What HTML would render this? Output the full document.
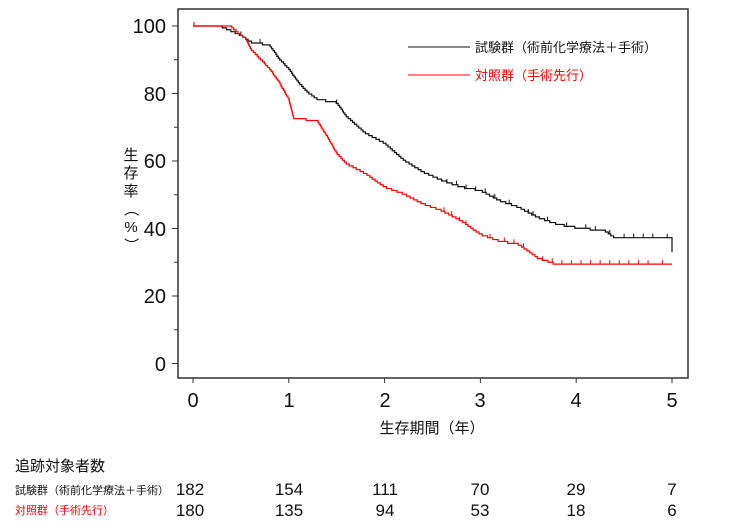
<!DOCTYPE html>
<html><head><meta charset="utf-8"><style>
body{margin:0;background:#fff;width:736px;height:525px;overflow:hidden}
svg{font-family:"Liberation Sans","Noto Sans CJK JP",sans-serif}
</style></head><body>
<svg id="s" width="736" height="525" xmlns="http://www.w3.org/2000/svg">
<rect x="178" y="9" width="510" height="369" fill="none" stroke="#333" stroke-width="1.5"/>
<g font-size="20" fill="#111" text-anchor="end">
<text x="166" y="33">100</text><text x="166" y="101">80</text><text x="166" y="168">60</text>
<text x="166" y="236">40</text><text x="166" y="303">20</text><text x="166" y="371">0</text>
</g>
<g font-size="20" fill="#111" text-anchor="middle">
<text x="193" y="407">0</text><text x="289" y="407">1</text><text x="385" y="407">2</text>
<text x="480" y="407">3</text><text x="576" y="407">4</text><text x="672" y="407">5</text>
</g>
<text x="432" y="433" font-size="15" text-anchor="middle" fill="#111">生存期間（年）</text>
<g font-size="15" fill="#111" text-anchor="middle">
<text x="131" y="160">生</text><text x="131" y="178">存</text><text x="131" y="196">率</text>
<text x="131" y="214" transform="rotate(90 131 209)">（</text><text x="131" y="232">%</text>
<text x="131" y="250" transform="rotate(90 131 245)">）</text>
</g>
<line x1="408" y1="47" x2="470" y2="47" stroke="#111"/>
<text x="475" y="52" font-size="13" fill="#111">試験群（術前化学療法＋手術）</text>
<line x1="408" y1="75" x2="470" y2="75" stroke="#f00"/>
<text x="475" y="80" font-size="13" fill="#f00">対照群（手術先行）</text>
<text x="15" y="471" font-size="15" fill="#111">追跡対象者数</text>
<text x="15" y="494" font-size="11" fill="#111">試験群（術前化学療法＋手術）</text>
<text x="15" y="514" font-size="11" fill="#f00">対照群（手術先行）</text>
<g font-size="17" fill="#111" text-anchor="middle">
<text x="190" y="495">182</text><text x="289" y="495">154</text><text x="385" y="495">111</text><text x="480" y="495">70</text><text x="576" y="495">29</text><text x="672" y="495">7</text>
<text x="190" y="516">180</text><text x="289" y="516">135</text><text x="385" y="516">94</text><text x="480" y="516">53</text><text x="576" y="516">18</text><text x="672" y="516">6</text>
</g>
</svg>
<script>
var s=document.getElementById('s'),NS='http://www.w3.org/2000/svg';
function X(t){return 193+t*95.8}function Y(v){return 363.5-v*3.375}
for(var v=0;v<=100;v+=10){var l=document.createElementNS(NS,'line');l.setAttribute('x1',v%20?174:172);l.setAttribute('x2',178);l.setAttribute('y1',Y(v));l.setAttribute('y2',Y(v));l.setAttribute('stroke','#333');s.appendChild(l);}
for(var t=0;t<=5;t++){var l=document.createElementNS(NS,'line');l.setAttribute('x1',X(t));l.setAttribute('x2',X(t));l.setAttribute('y1',378);l.setAttribute('y2',383);l.setAttribute('stroke','#333');s.appendChild(l);}
function val(pts,t){for(var i=1;i<pts.length;i++){if(t<=pts[i][0]){var a=pts[i-1],b=pts[i];if(b[0]==a[0])return b[1];return a[1]+(b[1]-a[1])*(t-a[0])/(b[0]-a[0]);}}return pts[pts.length-1][1];}
function draw(pts,col,cens,final){var step=0.56,cur=100,d='M'+X(0)+' '+Y(100),out=[[0,100]];
for(var t=0;t<=4.999;t+=0.005){var v=val(pts,t);while(v<=cur-step){cur-=step;d+=' H'+X(t)+' V'+Y(cur);out.push([t,cur]);}}
d+=' H'+X(5);if(final){d+=' V'+Y(final);}
var p=document.createElementNS(NS,'path');p.setAttribute('d',d);p.setAttribute('fill','none');p.setAttribute('stroke',col);p.setAttribute('stroke-width','1.2');s.appendChild(p);
cens.forEach(function(t){var v=100;for(var i=0;i<out.length;i++)if(out[i][0]<=t)v=out[i][1];
var l=document.createElementNS(NS,'line');l.setAttribute('x1',X(t));l.setAttribute('x2',X(t));l.setAttribute('y1',Y(v)-4);l.setAttribute('y2',Y(v));l.setAttribute('stroke',col);s.appendChild(l);});}
var B=[[0,100],[0.3,99.5],[0.5,97],[0.6,95],[0.8,94],[0.9,90],[1.0,87],[1.1,83],[1.2,80],[1.3,78],[1.5,77],[1.6,73],[1.8,68],[2.0,65],[2.2,60],[2.4,56.5],[2.6,54],[2.8,52],[3.0,51],[3.2,48],[3.4,46],[3.6,43],[3.8,41],[4.0,40],[4.3,39],[4.4,37],[5.0,37]];
var R=[[0,100],[0.4,99.5],[0.5,97],[0.55,96],[0.6,93],[0.7,90],[0.8,87],[0.9,83],[1.0,78],[1.05,72.5],[1.3,71.5],[1.4,67],[1.5,62],[1.6,59],[1.8,56],[2.0,52],[2.2,50],[2.4,47],[2.6,45],[2.8,42],[3.0,38],[3.2,36],[3.4,35],[3.5,33],[3.6,31],[3.7,30],[3.8,29],[5.0,29]];
draw(B,'#111',[0.01,0.5,0.7,1.5,2.65,2.75,2.85,2.95,3.05,3.15,3.3,3.5,3.55,3.7,3.9,4.1,4.2,4.35,4.5,4.6,4.7,4.8,4.95],33);
draw(R,'#f00',[0.01,2.62,2.7,2.78,2.85,3.1,3.25,3.35,3.45,3.65,3.75,3.85,3.95,4.05,4.15,4.25,4.35,4.45,4.55,4.65,4.75,4.9],0);
</script>
</body></html>
